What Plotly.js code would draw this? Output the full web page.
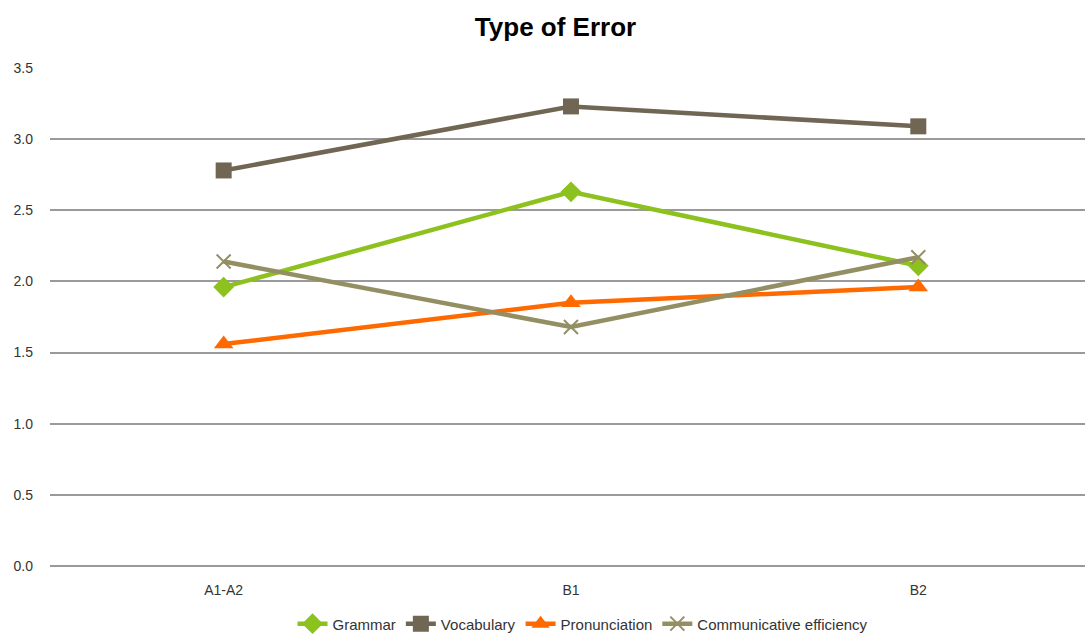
<!DOCTYPE html>
<html>
<head>
<meta charset="utf-8">
<script src="https://cdn.plot.ly/plotly-3.0.1.min.js"></script>
<style>
  html, body { margin: 0; padding: 0; background: #fff; }
  #chart { width: 1085px; height: 636px; }
</style>
</head>
<body>
<div id="chart"></div>
<script>
// Proficiency levels along the x axis
const levels = ["A1-A2", "B1", "B2"];

// Mean error scores per type
const grammar = [1.96, 2.63, 2.11];
const vocabulary = [2.78, 3.23, 3.09];
const pronunciation = [1.56, 1.85, 1.96];
const communicative = [2.14, 1.68, 2.17];

const seriesNames = ["Grammar", "Vocabulary", "Pronunciation", "Communicative efficiency"];
const yTicks = [0, 0.5, 1.0, 1.5, 2.0, 2.5, 3.0, 3.5];
const yTickText = ["0.0", "0.5", "1.0", "1.5", "2.0", "2.5", "3.0", "3.5"];

const font = "'Liberation Sans', Arial, sans-serif";

function series(name, y, color, symbol, size) {
  return {
    type: "scatter",
    mode: "lines+markers",
    name: name,
    x: levels,
    y: y,
    line: { color: color, width: 4.5 },
    marker: { color: color, symbol: symbol, size: size, line: { color: color, width: symbol === "x-thin" ? 2 : 0 } },
    cliponaxis: false
  };
}

const data = [
  series(seriesNames[0], grammar, "#8CC11E", "diamond", 16),
  series(seriesNames[1], vocabulary, "#716654", "square", 16),
  series(seriesNames[2], pronunciation, "#FF6A00", "triangle-up", 17),
  series(seriesNames[3], communicative, "#938F63", "x-thin", 14)
];

const layout = {
  width: 1085,
  height: 636,
  paper_bgcolor: "#ffffff",
  plot_bgcolor: "#ffffff",
  margin: { l: 50, r: 0, t: 68, b: 70, autoexpand: false },
  font: { family: font, size: 14, color: "#333333" },
  title: {
    text: "<b>Type of Error</b>",
    font: { family: font, size: 26, color: "#000000" },
    x: 0.512,
    xanchor: "center",
    y: 0.957,
    yanchor: "middle"
  },
  xaxis: {
    type: "category",
    range: [-0.5, 2.48],
    showgrid: false,
    zeroline: false,
    showline: false,
    ticks: "",
    tickfont: { family: font, size: 14, color: "#333333" },
    ticklabelstandoff: 14
  },
  yaxis: {
    range: [0, 3.5],
    tickvals: yTicks,
    ticktext: yTickText,
    showgrid: true,
    gridcolor: "#9a9a9a",
    gridwidth: 2,
    zeroline: true,
    zerolinecolor: "#9a9a9a",
    zerolinewidth: 2,
    showline: false,
    ticks: "",
    tickfont: { family: font, size: 14, color: "#333333" },
    ticklabelstandoff: 16
  },
  showlegend: true,
  legend: {
    orientation: "h",
    x: 0.515,
    xanchor: "center",
    yref: "container",
    y: 0.019,
    yanchor: "middle",
    font: { family: font, size: 15, color: "#333333" },
    itemwidth: 30,
    tracegroupgap: 0
  }
};

Plotly.newPlot("chart", data, layout, { displayModeBar: false, staticPlot: true });
</script>
</body>
</html>
